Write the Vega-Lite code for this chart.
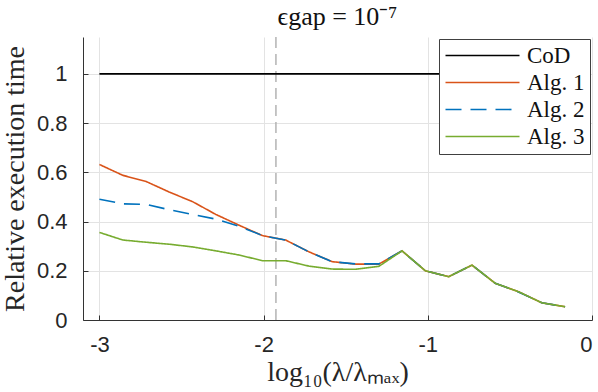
{
  "$schema": "https://vega.github.io/schema/vega-lite/v6.json",
  "width": 509,
  "height": 283,
  "autosize": {"type": "none"},
  "padding": {"left": 83, "top": 37, "right": 6, "bottom": 72},
  "background": "white",
  "config": {
    "view": {"stroke": null},
    "axis": {
      "domainColor": "#333333",
      "domainWidth": 1,
      "tickColor": "#333333",
      "tickSize": -5,
      "tickWidth": 1,
      "gridColor": "#e3e3e3",
      "gridWidth": 1,
      "labelFont": "Liberation Sans",
      "labelFontSize": 22,
      "labelColor": "#262626",
      "titleFont": "Liberation Serif",
      "titleFontSize": 28,
      "titleFontWeight": "normal",
      "titleColor": "#262626"
    },
    "legend": {
      "orient": "top-right",
      "offset": 2,
      "strokeColor": "#404040",
      "fillColor": "white",
      "padding": 5,
      "symbolType": "M -3.7 0 L 3.7 0",
      "symbolSize": 400,
      "symbolOffset": 27,
      "symbolStrokeWidth": 1.6,
      "labelFont": "Liberation Serif",
      "labelFontSize": 23,
      "labelColor": "#111111",
      "labelOffset": 33,
      "rowPadding": 3
    },
    "title": {
      "font": "Liberation Serif",
      "fontSize": 26,
      "fontWeight": "normal",
      "color": "#111111"
    }
  },
  "title": {"text": "ϵgap = 10⁻⁷", "offset": 6},
  "data": {
    "values": [
      {"x": -3.000, "y": 1, "series": "CoD"},
      {"x": -2.858, "y": 1, "series": "CoD"},
      {"x": -2.716, "y": 1, "series": "CoD"},
      {"x": -2.575, "y": 1, "series": "CoD"},
      {"x": -2.433, "y": 1, "series": "CoD"},
      {"x": -2.291, "y": 1, "series": "CoD"},
      {"x": -2.149, "y": 1, "series": "CoD"},
      {"x": -2.007, "y": 1, "series": "CoD"},
      {"x": -1.866, "y": 1, "series": "CoD"},
      {"x": -1.724, "y": 1, "series": "CoD"},
      {"x": -1.582, "y": 1, "series": "CoD"},
      {"x": -1.440, "y": 1, "series": "CoD"},
      {"x": -1.298, "y": 1, "series": "CoD"},
      {"x": -1.157, "y": 1, "series": "CoD"},
      {"x": -1.015, "y": 1, "series": "CoD"},
      {"x": -0.873, "y": 1, "series": "CoD"},
      {"x": -0.731, "y": 1, "series": "CoD"},
      {"x": -0.589, "y": 1, "series": "CoD"},
      {"x": -0.448, "y": 1, "series": "CoD"},
      {"x": -0.306, "y": 1, "series": "CoD"},
      {"x": -0.164, "y": 1, "series": "CoD"},

      {"x": -3.000, "y": 0.632, "series": "Alg. 1"},
      {"x": -2.858, "y": 0.588, "series": "Alg. 1"},
      {"x": -2.716, "y": 0.563, "series": "Alg. 1"},
      {"x": -2.575, "y": 0.520, "series": "Alg. 1"},
      {"x": -2.433, "y": 0.481, "series": "Alg. 1"},
      {"x": -2.291, "y": 0.429, "series": "Alg. 1"},
      {"x": -2.149, "y": 0.385, "series": "Alg. 1"},
      {"x": -2.007, "y": 0.343, "series": "Alg. 1"},
      {"x": -1.866, "y": 0.325, "series": "Alg. 1"},
      {"x": -1.724, "y": 0.277, "series": "Alg. 1"},
      {"x": -1.582, "y": 0.237, "series": "Alg. 1"},
      {"x": -1.440, "y": 0.227, "series": "Alg. 1"},
      {"x": -1.298, "y": 0.227, "series": "Alg. 1"},
      {"x": -1.157, "y": 0.281, "series": "Alg. 1"},
      {"x": -1.015, "y": 0.200, "series": "Alg. 1"},
      {"x": -0.873, "y": 0.176, "series": "Alg. 1"},
      {"x": -0.731, "y": 0.223, "series": "Alg. 1"},
      {"x": -0.589, "y": 0.149, "series": "Alg. 1"},
      {"x": -0.448, "y": 0.115, "series": "Alg. 1"},
      {"x": -0.306, "y": 0.070, "series": "Alg. 1"},
      {"x": -0.164, "y": 0.054, "series": "Alg. 1"},

      {"x": -3.000, "y": 0.491, "series": "Alg. 2"},
      {"x": -2.858, "y": 0.472, "series": "Alg. 2"},
      {"x": -2.716, "y": 0.470, "series": "Alg. 2"},
      {"x": -2.575, "y": 0.448, "series": "Alg. 2"},
      {"x": -2.433, "y": 0.429, "series": "Alg. 2"},
      {"x": -2.291, "y": 0.410, "series": "Alg. 2"},
      {"x": -2.149, "y": 0.381, "series": "Alg. 2"},
      {"x": -2.007, "y": 0.343, "series": "Alg. 2"},
      {"x": -1.866, "y": 0.325, "series": "Alg. 2"},
      {"x": -1.724, "y": 0.277, "series": "Alg. 2"},
      {"x": -1.582, "y": 0.237, "series": "Alg. 2"},
      {"x": -1.440, "y": 0.228, "series": "Alg. 2"},
      {"x": -1.298, "y": 0.228, "series": "Alg. 2"},
      {"x": -1.157, "y": 0.281, "series": "Alg. 2"},
      {"x": -1.015, "y": 0.200, "series": "Alg. 2"},
      {"x": -0.873, "y": 0.176, "series": "Alg. 2"},
      {"x": -0.731, "y": 0.223, "series": "Alg. 2"},
      {"x": -0.589, "y": 0.149, "series": "Alg. 2"},
      {"x": -0.448, "y": 0.114, "series": "Alg. 2"},
      {"x": -0.306, "y": 0.070, "series": "Alg. 2"},
      {"x": -0.164, "y": 0.054, "series": "Alg. 2"},

      {"x": -3.000, "y": 0.356, "series": "Alg. 3"},
      {"x": -2.858, "y": 0.325, "series": "Alg. 3"},
      {"x": -2.716, "y": 0.316, "series": "Alg. 3"},
      {"x": -2.575, "y": 0.308, "series": "Alg. 3"},
      {"x": -2.433, "y": 0.297, "series": "Alg. 3"},
      {"x": -2.291, "y": 0.281, "series": "Alg. 3"},
      {"x": -2.149, "y": 0.264, "series": "Alg. 3"},
      {"x": -2.007, "y": 0.241, "series": "Alg. 3"},
      {"x": -1.866, "y": 0.241, "series": "Alg. 3"},
      {"x": -1.724, "y": 0.219, "series": "Alg. 3"},
      {"x": -1.582, "y": 0.207, "series": "Alg. 3"},
      {"x": -1.440, "y": 0.206, "series": "Alg. 3"},
      {"x": -1.298, "y": 0.218, "series": "Alg. 3"},
      {"x": -1.157, "y": 0.281, "series": "Alg. 3"},
      {"x": -1.015, "y": 0.200, "series": "Alg. 3"},
      {"x": -0.873, "y": 0.176, "series": "Alg. 3"},
      {"x": -0.731, "y": 0.223, "series": "Alg. 3"},
      {"x": -0.589, "y": 0.149, "series": "Alg. 3"},
      {"x": -0.448, "y": 0.115, "series": "Alg. 3"},
      {"x": -0.306, "y": 0.070, "series": "Alg. 3"},
      {"x": -0.164, "y": 0.054, "series": "Alg. 3"}
    ]
  },
  "layer": [
    {
      "data": {"values": [{"xr": -1.925}]},
      "mark": {"type": "rule", "color": "#b3b3b3", "strokeWidth": 1.5, "strokeDash": [11, 6]},
      "encoding": {
        "x": {"field": "xr", "type": "quantitative", "scale": {"domain": [-3.1, 0]}}
      }
    },
    {
      "mark": {"type": "line", "strokeWidth": 1.6, "clip": true},
      "encoding": {
        "x": {
          "field": "x",
          "type": "quantitative",
          "scale": {"domain": [-3.1, 0], "nice": false, "zero": false},
          "axis": {
            "title": "log₁₀(λ/λₘₐₓ)",
            "values": [-3, -2, -1, 0],
            "labelExpr": "'' + datum.value",
            "labelPadding": 19,
            "titlePadding": 3,
            "grid": true
          }
        },
        "y": {
          "field": "y",
          "type": "quantitative",
          "scale": {"domain": [0, 1.15], "nice": false},
          "axis": {
            "title": "Relative execution time",
            "values": [0, 0.2, 0.4, 0.6, 0.8, 1],
            "labelExpr": "'' + datum.value",
            "labelPadding": 21,
            "titlePadding": 7,
            "grid": true
          }
        },
        "color": {
          "field": "series",
          "type": "nominal",
          "scale": {
            "domain": ["CoD", "Alg. 1", "Alg. 2", "Alg. 3"],
            "range": ["#000000", "#D95319", "#0072BD", "#77AC30"]
          },
          "legend": {"title": null}
        },
        "strokeDash": {
          "field": "series",
          "type": "nominal",
          "scale": {
            "domain": ["CoD", "Alg. 1", "Alg. 2", "Alg. 3"],
            "range": [[1, 0], [1, 0], [16, 9], [1, 0]]
          },
          "legend": {"title": null}
        }
      }
    }
  ]
}
